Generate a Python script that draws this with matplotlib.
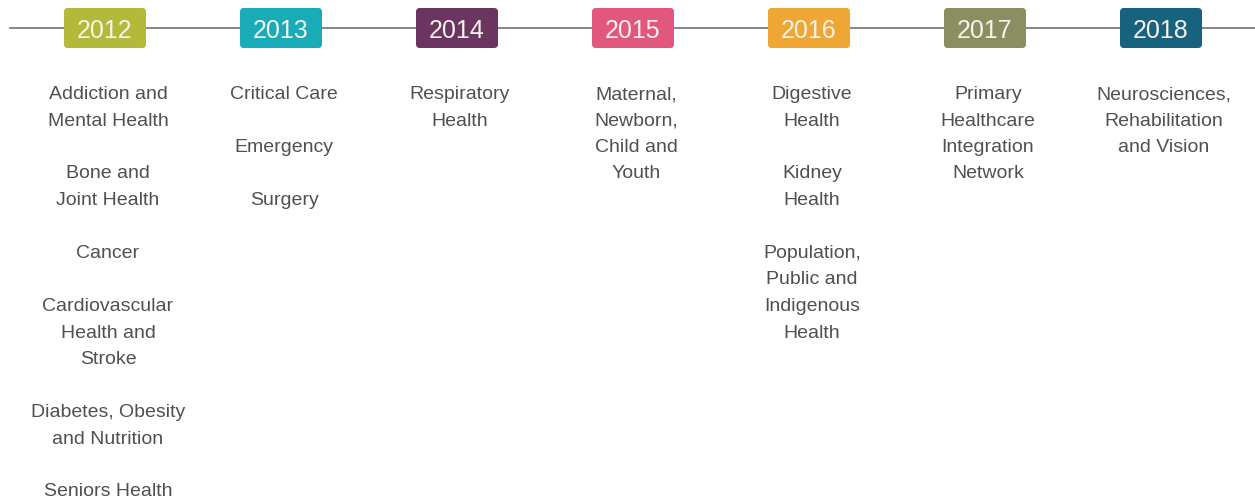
import matplotlib.pyplot as plt
from matplotlib.patches import FancyBboxPatch

# timeline data
years = [2012, 2013, 2014, 2015, 2016, 2017, 2018]
year_colors = ['#b3ba3a', '#1aabb8', '#6b3461', '#e2577f', '#eea734', '#8b8e60', '#17627f']
networks = [
    ['Addiction and\nMental Health', 'Bone and\nJoint Health', 'Cancer',
     'Cardiovascular\nHealth and\nStroke', 'Diabetes, Obesity\nand Nutrition', 'Seniors Health'],
    ['Critical Care', 'Emergency', 'Surgery'],
    ['Respiratory\nHealth'],
    ['Maternal,\nNewborn,\nChild and\nYouth'],
    ['Digestive\nHealth', 'Kidney\nHealth', 'Population,\nPublic and\nIndigenous\nHealth'],
    ['Primary\nHealthcare\nIntegration\nNetwork'],
    ['Neurosciences,\nRehabilitation\nand Vision'],
]

# layout (pixels)
W, H = 1255, 501
px_per_year = 176.0
x0_px = 105.0
text_dx = 3.0
row0 = 92.5
pitch = 26.5
line_y = 28.0
box_w_px, box_h_px, box_top = 82.0, 40.0, 8.0
text_color = '#505050'
line_color = '#7b6b7a'

plt.rcParams['font.family'] = ['Liberation Sans', 'DejaVu Sans']

fig = plt.figure(figsize=(W / 100, H / 100), dpi=100)
ax = fig.add_axes([0, 0, 1, 1])
ax.set_xlim(years[0] - x0_px / px_per_year, years[0] + (W - x0_px) / px_per_year)
ax.set_ylim(H, 0)
ax.axis('off')

xmin, xmax = ax.get_xlim()
ax.plot([xmin + 10 / px_per_year, xmax], [line_y, line_y], color=line_color, lw=1.2, zorder=1)

bw = box_w_px / px_per_year
for yr, col, items in zip(years, year_colors, networks):
    box = FancyBboxPatch((yr - bw / 2, box_top), bw, box_h_px,
                         boxstyle='round,pad=0,rounding_size=0.022',
                         mutation_aspect=px_per_year, fc=col, ec='none', zorder=2)
    ax.add_patch(box)
    ax.text(yr, box_top + box_h_px / 2, str(yr), ha='center', va='center_baseline',
            fontsize=18, color='#f7f3ea', zorder=3)

    # each item is separated by one blank line
    k = 0
    for item in items:
        for line in item.split('\n'):
            ax.text(yr + text_dx / px_per_year, row0 + k * pitch, line, ha='center',
                    va='center_baseline', fontsize=14, color=text_color)
            k += 1
        k += 1

fig.savefig('out.png', dpi=100, facecolor='white')
